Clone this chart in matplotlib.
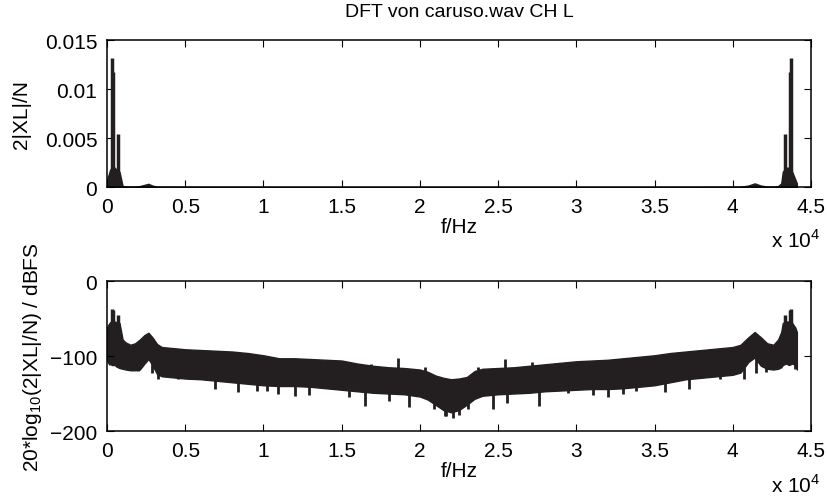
import numpy as np
import matplotlib
matplotlib.use("Agg")
import matplotlib.pyplot as plt
from matplotlib.ticker import FuncFormatter

plt.rcParams['font.family'] = ['Liberation Sans', 'DejaVu Sans']
plt.rcParams['mathtext.fontset'] = 'custom'
plt.rcParams['mathtext.rm'] = 'Liberation Sans'

# spectrum envelope (f in 1e4 Hz, level in dBFS)
env_f = [0.0, 0.01, 0.02, 0.03, 0.05, 0.06, 0.08, 0.10, 0.12, 0.15, 0.18, 0.21, 0.24, 0.265,
         0.29, 0.32, 0.35, 0.4, 0.5, 0.6, 0.7, 0.8, 0.9, 1.0, 1.1, 1.2, 1.3, 1.4, 1.5, 1.6,
         1.7, 1.8, 1.9, 2.0, 2.05, 2.1, 2.15, 2.2, 2.25, 2.3, 2.35, 2.4, 2.5, 2.6, 2.7, 2.8,
         2.9, 3.0, 3.1, 3.2, 3.3, 3.4, 3.5, 3.6, 3.7, 3.8, 3.9, 4.0, 4.05, 4.1, 4.14, 4.18,
         4.22, 4.26, 4.29, 4.31, 4.32, 4.34, 4.36, 4.38, 4.40, 4.41]
env_upper = [-62, -58, -55, -54, -54, -55, -56, -78, -82, -85, -83, -78, -72, -69,
             -75, -84, -88, -89, -91, -92, -93, -94, -96, -99, -103, -103, -104, -105, -106, -110,
             -113, -115, -116, -118, -121, -126, -129, -131, -130, -128, -120, -117, -116, -115, -113, -111,
             -109, -107, -106, -105, -103, -101, -99, -96, -94, -92, -90, -88, -85, -75, -68, -75,
             -83, -85, -78, -68, -56, -54, -54, -56, -62, -68]
env_lower = [-105, -110, -108, -112, -112, -114, -116, -117, -118, -119, -119, -118, -110, -104,
             -112, -124, -127, -128, -130, -131, -133, -135, -137, -139, -140, -140, -141, -143, -145, -147,
             -149, -150, -151, -154, -158, -165, -172, -175, -172, -165, -157, -153, -151, -150, -149, -147,
             -146, -145, -144, -144, -143, -141, -139, -135, -131, -129, -127, -125, -122, -108, -102, -113,
             -117, -118, -117, -115, -112, -110, -112, -110, -112, -118]

# downward spikes of the noise floor
dip_f = [0.019, 0.158, 0.2, 0.286, 0.328, 0.456, 0.53, 0.69, 0.836, 0.957, 1.02, 1.095, 1.20, 1.29,
         1.55, 1.65, 1.80, 1.93, 2.09, 2.16, 2.17, 2.21, 2.25, 2.31, 2.47, 2.556, 2.76, 2.95, 3.11,
         3.2, 3.30, 3.38, 3.57, 3.72, 3.92, 4.07, 4.15, 4.21, 4.40]
dip_db = [-112, -118, -120, -123, -130, -131, -130, -144, -148, -146, -147, -151, -153, -152,
          -155, -166, -160, -168, -171, -180, -180, -183, -178, -171, -170, -162, -167, -149, -152,
          -154, -151, -147, -148, -144, -131, -131, -123, -121, -117]

# upward spikes above the noise floor
bump_f = [1.69, 1.86, 2.03, 2.374, 2.545, 2.715]
bump_db = [-110, -103, -114, -115, -104, -108]

# tonal peaks (linear 2|XL|/N)
peak_f = [0.034, 0.040, 0.072, 4.332, 4.365, 4.37]
peak_mag = [0.0132, 0.0117, 0.0054, 0.0054, 0.0117, 0.0132]

col = '#231f20'
fs = 15
f = np.array(env_f) * 1e4
up = np.array(env_upper, dtype=float)
lo = np.array(env_lower, dtype=float)
pf = np.array(peak_f) * 1e4
pm = np.array(peak_mag)

fig = plt.figure(figsize=(8.28, 5.02), dpi=100)
ax1 = fig.add_axes([0.1292, 0.6249, 0.8502, 0.2934])
ax2 = fig.add_axes([0.1292, 0.1394, 0.8502, 0.2988])

# top: linear magnitude
ax1.fill_between(f, 0, 10 ** (up / 20), color=col, lw=1)
ax1.vlines(pf, 0, pm, color=col, lw=2.5)
ax1.set_ylim(0, 0.015)
ax1.set_yticks([0, 0.005, 0.01, 0.015])
ax1.set_yticklabels(['0', '0.005', '0.01', '0.015'])
ax1.set_ylabel('2|XL|/N', fontsize=fs, labelpad=10)
ax1.set_title('DFT von caruso.wav CH L', fontsize=14, pad=17)

# bottom: level in dB
ax2.fill_between(f, lo, up, color=col, lw=1)
ax2.vlines(np.array(dip_f) * 1e4, np.array(dip_db), np.interp(np.array(dip_f) * 1e4, f, lo) + 5, color=col, lw=2)
ax2.vlines(np.array(bump_f) * 1e4, np.interp(np.array(bump_f) * 1e4, f, up) - 5, np.array(bump_db), color=col, lw=2)
ax2.vlines(pf, np.interp(pf, f, up) - 5, 20 * np.log10(pm), color=col, lw=2.5)
ax2.set_ylim(-200, 0)
ax2.set_yticks([-200, -100, 0])
ax2.set_yticklabels(['\u2212200', '\u2212100', '0'])
ax2.set_ylabel('20*log$_{10}$(2|XL|/N) / dBFS', fontsize=fs, labelpad=4)

for ax in (ax1, ax2):
    ax.set_xlim(0, 4.5e4)
    ax.set_xticks(np.arange(0, 4.51e4, 0.5e4))
    ax.xaxis.set_major_formatter(FuncFormatter(lambda v, p: '%g' % (v / 1e4)))
    ax.set_xlabel('f/Hz', fontsize=fs, labelpad=1)
    ax.tick_params(direction='in', length=5, width=0.8, top=True, right=True, labelsize=fs, pad=7)
    for s in ax.spines.values():
        s.set_linewidth(1.1)
    ax.text(1.013, -0.28, 'x 10$^4$', transform=ax.transAxes, ha='right', va='top', fontsize=fs)

fig.savefig('out.png', dpi=100)
